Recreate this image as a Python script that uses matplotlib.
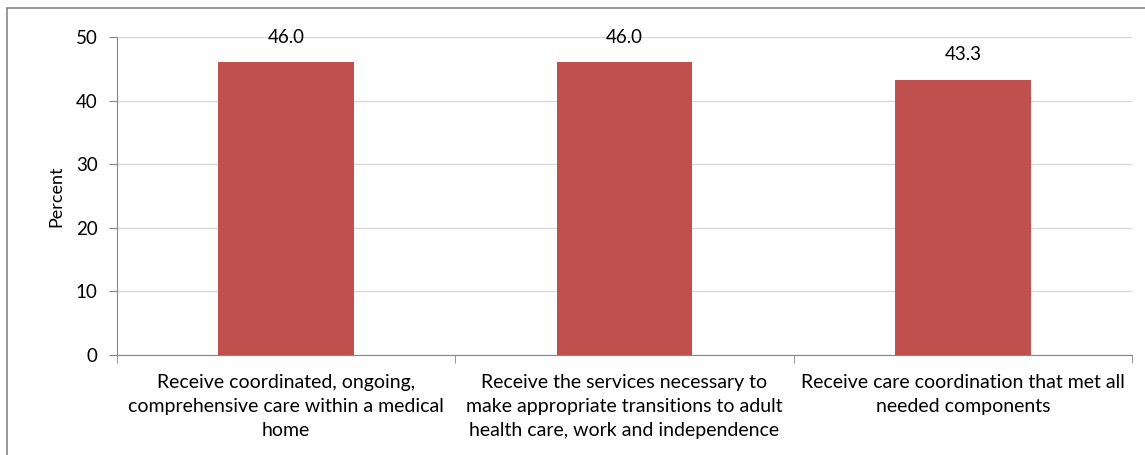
import matplotlib.pyplot as plt
from matplotlib.patches import Rectangle

categories = [
    "Receive coordinated, ongoing,\ncomprehensive care within a medical\nhome",
    "Receive the services necessary to\nmake appropriate transitions to adult\nhealth care, work and independence",
    "Receive care coordination that met all\nneeded components",
]
values = [46.0, 46.0, 43.3]
yticks = [0, 10, 20, 30, 40, 50]

plt.rcParams['font.family'] = ['Lato', 'DejaVu Sans']

fig = plt.figure(figsize=(11.45, 4.55), dpi=100)
ax = fig.add_axes([117 / 1145, 1 - 355 / 455, (1132 - 117) / 1145, (355 - 37) / 455])

# outer chart border (partly cut off in the original)
fig.patches.append(Rectangle((7 / 1145, -0.1), 1.2, 1 - 8 / 455 + 0.1,
                             transform=fig.transFigure, fill=False,
                             edgecolor='#868686', linewidth=1.2))

x = list(range(len(values)))
ax.bar(x, values, width=0.4, color='#C0504D', zorder=3)
for xi, v in zip(x, values):
    ax.annotate(f"{v:.1f}", (xi, v), xytext=(0, 12), textcoords='offset points',
                ha='center', va='bottom', fontsize=13.5, color='black')

ax.set_xlim(-0.5, 2.5)
ax.set_ylim(0, 50)
ax.set_yticks(yticks)
ax.yaxis.grid(True, color='#D9D9D9', linewidth=1, zorder=0)
ax.set_xticks(x)
ax.set_xticklabels(categories, fontsize=14, linespacing=1.5)
ax.tick_params(axis='x', length=0, pad=14)
ax.set_xticks([-0.5, 0.5, 1.5, 2.5], minor=True)
ax.tick_params(axis='x', which='minor', length=6, color='#868686', direction='out')
ax.tick_params(axis='y', length=6, color='#868686', labelsize=13.5, pad=8)
ax.set_ylabel("Percent", fontsize=13, labelpad=8)

for s in ['top', 'right']:
    ax.spines[s].set_visible(False)
for s in ['left', 'bottom']:
    ax.spines[s].set_color('#868686')

fig.savefig('out.png', dpi=100)
